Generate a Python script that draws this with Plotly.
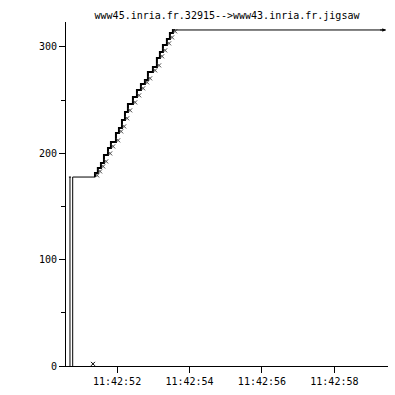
import plotly.graph_objects as go

# time in seconds after 11:42:00
syn_t = [50.70, 50.775]
syn_top = 177.7

flat_t = [50.775, 51.39]
flat_v = [177.7, 177.7]

step_t = [51.39, 51.47, 51.555, 51.638, 51.749, 51.831, 51.969, 52.052, 52.135,
          52.218, 52.30, 52.438, 52.549, 52.659, 52.769, 52.852, 52.99, 53.10,
          53.183, 53.266, 53.376, 53.459, 53.542, 53.597]
step_v = [177.7, 181.5, 186.2, 190.9, 198.4, 205.0, 210.7, 219.1, 223.8,
          231.4, 238.9, 246.4, 253.0, 259.6, 265.2, 269.0, 276.5, 281.2,
          289.7, 295.3, 301.9, 307.5, 313.2, 316.0]

top_t = [53.597, 59.42]
top_v = [316.0, 316.0]

low_x_t = [51.335]
low_x_v = [2.0]

xtick_vals = [52, 54, 56, 58]
xtick_text = ["11:42:52", "11:42:54", "11:42:56", "11:42:58"]
ytick_vals = [0, 100, 200, 300]

title = "www45.inria.fr.32915-->www43.inria.fr.jigsaw"
FONT = "DejaVu Sans Mono"

fig = go.Figure()

# SYN vertical segments
for t in syn_t:
    fig.add_trace(go.Scatter(x=[t, t], y=[0, syn_top], mode="lines",
                             line=dict(color="black", width=1), hoverinfo="skip"))
fig.add_trace(go.Scatter(x=[syn_t[0] - 0.03, syn_t[0] + 0.03], y=[syn_top, syn_top],
                         mode="lines", line=dict(color="black", width=1)))

fig.add_trace(go.Scatter(x=flat_t, y=flat_v, mode="lines",
                         line=dict(color="black", width=1)))

fig.add_trace(go.Scatter(x=step_t, y=step_v, mode="lines",
                         line=dict(color="black", width=2, shape="vh")))

fig.add_trace(go.Scatter(x=[t + 0.06 for t in step_t[:-1]],
                         y=[v + 1.5 for v in step_v[:-1]], mode="markers",
                         marker=dict(symbol="x-thin", size=4,
                                     line=dict(color="#444444", width=1))))

fig.add_trace(go.Scatter(x=top_t, y=top_v, mode="lines",
                         line=dict(color="black", width=1)))

fig.add_trace(go.Scatter(x=low_x_t, y=low_x_v, mode="markers",
                         marker=dict(symbol="x-thin", size=4,
                                     line=dict(color="black", width=1))))

fig.add_annotation(x=top_t[1], y=top_v[1], ax=top_t[1] - 0.2, ay=top_v[1],
                   xref="x", yref="y", axref="x", ayref="y", text="",
                   showarrow=True, arrowhead=2, arrowsize=0.7, arrowwidth=1,
                   arrowcolor="black")

fig.update_layout(
    width=395, height=395,
    margin=dict(l=66, r=7, t=22, b=29),
    paper_bgcolor="white", plot_bgcolor="white",
    showlegend=False,
    font=dict(family=FONT, size=10, color="black"),
    title=dict(text=title, x=0.5, xref="paper", y=1 - 15 / 395, yref="container",
               yanchor="middle", xanchor="center",
               font=dict(family=FONT, size=10, color="black")),
)
fig.update_xaxes(range=[50.59, 59.48], showgrid=False, zeroline=False,
                 showline=True, linecolor="black", linewidth=1,
                 tickmode="array", tickvals=xtick_vals, ticktext=xtick_text,
                 ticks="outside", ticklen=6, tickcolor="black")
fig.update_yaxes(range=[0, 323.5], showgrid=False, zeroline=False,
                 showline=True, linecolor="black", linewidth=1,
                 tickmode="array", tickvals=ytick_vals,
                 ticks="outside", ticklen=6, tickcolor="black",
                 minor=dict(tickmode="array", tickvals=[50, 150, 250],
                            ticks="outside", ticklen=4, tickcolor="black"))

fig.write_html("out.html")
